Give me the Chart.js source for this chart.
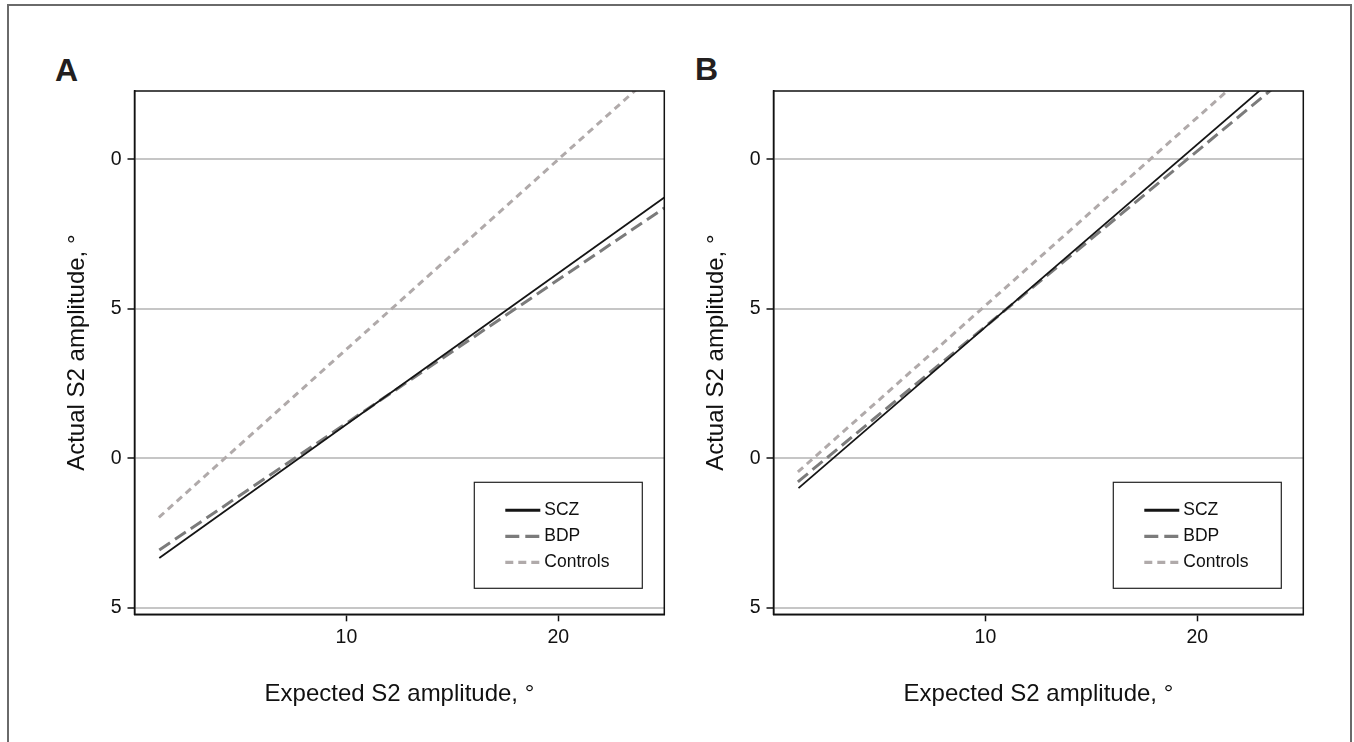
<!DOCTYPE html>
<html>
<head>
<meta charset="utf-8">
<script src="https://cdn.jsdelivr.net/npm/chart.js@4"></script>
<style>
html,body{margin:0;padding:0;background:#fff;width:1354px;height:742px;overflow:hidden;position:relative}
#frame{position:absolute;left:7px;top:4px;width:1345px;height:780px;border:2px solid #6a6a6a;box-sizing:border-box}
.lab{position:absolute;font-family:'Liberation Sans',Arial,sans-serif;font-weight:bold;font-size:32px;line-height:32px;color:#231f20}
canvas{position:absolute;top:0}
</style>
</head>
<body>
<div id="frame"></div>
<div class="lab" style="left:55px;top:54px">A</div>
<div class="lab" style="left:695px;top:53px">B</div>
<canvas id="cA" width="670" height="742" style="left:0px"></canvas>
<canvas id="cB" width="670" height="742" style="left:639px"></canvas>
<script>
// ---- data ----
const xTickValues = [10, 20];
const yTickValues = [5, 10, 15, 20];
const yTickLabels = ['5', '0', '5', '0'];
const seriesNames = ['SCZ', 'BDP', 'Controls'];
const xTitle = 'Expected S2 amplitude, °';
const yTitle = 'Actual S2 amplitude, °';

// Panel A
const aSczX = [1.17, 25];  const aSczY = [6.66, 18.72];
const aBdpX = [1.17, 25];  const aBdpY = [6.93, 18.37];
const aCtlX = [1.15, 25];  const aCtlY = [8.02, 23.17];
// Panel B
const bSczX = [1.18, 25];  const bSczY = [9.00, 23.55];
const bBdpX = [1.15, 25];  const bBdpY = [9.21, 23.21];
const bCtlX = [1.15, 25];  const bCtlY = [9.54, 24.54];

// ---- styles ----
const FONT = "'Liberation Sans', Arial, sans-serif";
const styles = [
  {color: '#151515', width: 1.8, dash: [], legendWidth: 3, legendDash: []},
  {color: '#7b7b7b', width: 3, dash: [13, 6], legendWidth: 3.2, legendDash: [14, 6]},
  {color: '#b0aaaa', width: 3, dash: [7, 5], legendWidth: 3.2, legendDash: [8, 5]}
];

function pts(xs, ys) { return xs.map((x, i) => ({x: x, y: ys[i]})); }

const boxPlugin = {
  id: 'boxPlugin',
  afterDraw(chart) {
    const {ctx, chartArea: a} = chart;
    ctx.save();
    ctx.strokeStyle = '#111';
    ctx.lineWidth = 1.5;
    ctx.strokeRect(a.left, a.top, a.right - a.left, a.bottom - a.top);
    // legend box
    const w = 168, h = 106;
    const bx = a.right - 22 - w, by = a.bottom - 26 - h;
    ctx.fillStyle = '#fff';
    ctx.fillRect(bx, by, w, h);
    ctx.strokeStyle = '#222';
    ctx.lineWidth = 1.2;
    ctx.strokeRect(bx, by, w, h);
    const rows = [28, 54, 80];
    chart.data.datasets.forEach((ds, i) => {
      const y = by + rows[i];
      ctx.beginPath();
      ctx.setLineDash(styles[i].legendDash);
      ctx.strokeStyle = ds.borderColor;
      ctx.lineWidth = styles[i].legendWidth;
      ctx.moveTo(bx + 31, y);
      ctx.lineTo(bx + 66, y);
      ctx.stroke();
      ctx.setLineDash([]);
      ctx.fillStyle = '#111';
      ctx.font = '17.5px ' + FONT;
      ctx.textBaseline = 'middle';
      ctx.textAlign = 'left';
      ctx.fillText(ds.label, bx + 70, y);
    });
    ctx.restore();
  }
};

function makeChart(id, series) {
  const datasets = series.map((s, i) => ({
    label: seriesNames[i],
    data: pts(s[0], s[1]),
    borderColor: styles[i].color,
    borderWidth: styles[i].width,
    borderDash: styles[i].dash,
    pointRadius: 0,
    fill: false,
    tension: 0,
    clip: 0
  }));
  return new Chart(document.getElementById(id), {
    type: 'line',
    data: {datasets: datasets},
    plugins: [boxPlugin],
    options: {
      responsive: false,
      animation: false,
      devicePixelRatio: 1,
      layout: {padding: {left: 0, top: 91, right: 5.7, bottom: 0}},
      plugins: {legend: {display: false}, tooltip: {enabled: false}, title: {display: false}},
      scales: {
        x: {
          type: 'linear', min: 0, max: 25,
          afterBuildTicks: s => { s.ticks = xTickValues.map(v => ({value: v})); },
          afterFit: s => { s.height = 742 - 614.3; },
          ticks: {color: '#111', font: {family: FONT, size: 19.5}, padding: 5, maxRotation: 0,
                  callback: v => String(v)},
          grid: {drawOnChartArea: false, tickLength: 7, tickColor: '#111', tickWidth: 1.5},
          border: {color: '#111', width: 1.5},
          title: {display: true, text: xTitle, color: '#111', font: {family: FONT, size: 24},
                  padding: {top: 0, bottom: 33}}
        },
        y: {
          type: 'linear', min: 4.78, max: 22.28,
          afterBuildTicks: s => { s.ticks = yTickValues.map(v => ({value: v})); },
          afterFit: s => { s.width = 134.5; },
          ticks: {color: '#111', font: {family: FONT, size: 19.5}, padding: 6,
                  callback: v => { const i = yTickValues.indexOf(v); return i >= 0 ? yTickLabels[i] : ''; }},
          grid: {color: '#c6c6c6', lineWidth: 2, tickLength: 7, tickColor: '#111', tickWidth: 1.5},
          border: {color: '#111', width: 1.5},
          title: {display: true, text: yTitle, color: '#111', font: {family: FONT, size: 24},
                  padding: {top: 63, bottom: 0}}
        }
      }
    }
  });
}

makeChart('cA', [[aSczX, aSczY], [aBdpX, aBdpY], [aCtlX, aCtlY]]);
makeChart('cB', [[bSczX, bSczY], [bBdpX, bBdpY], [bCtlX, bCtlY]]);
</script>
</body>
</html>
